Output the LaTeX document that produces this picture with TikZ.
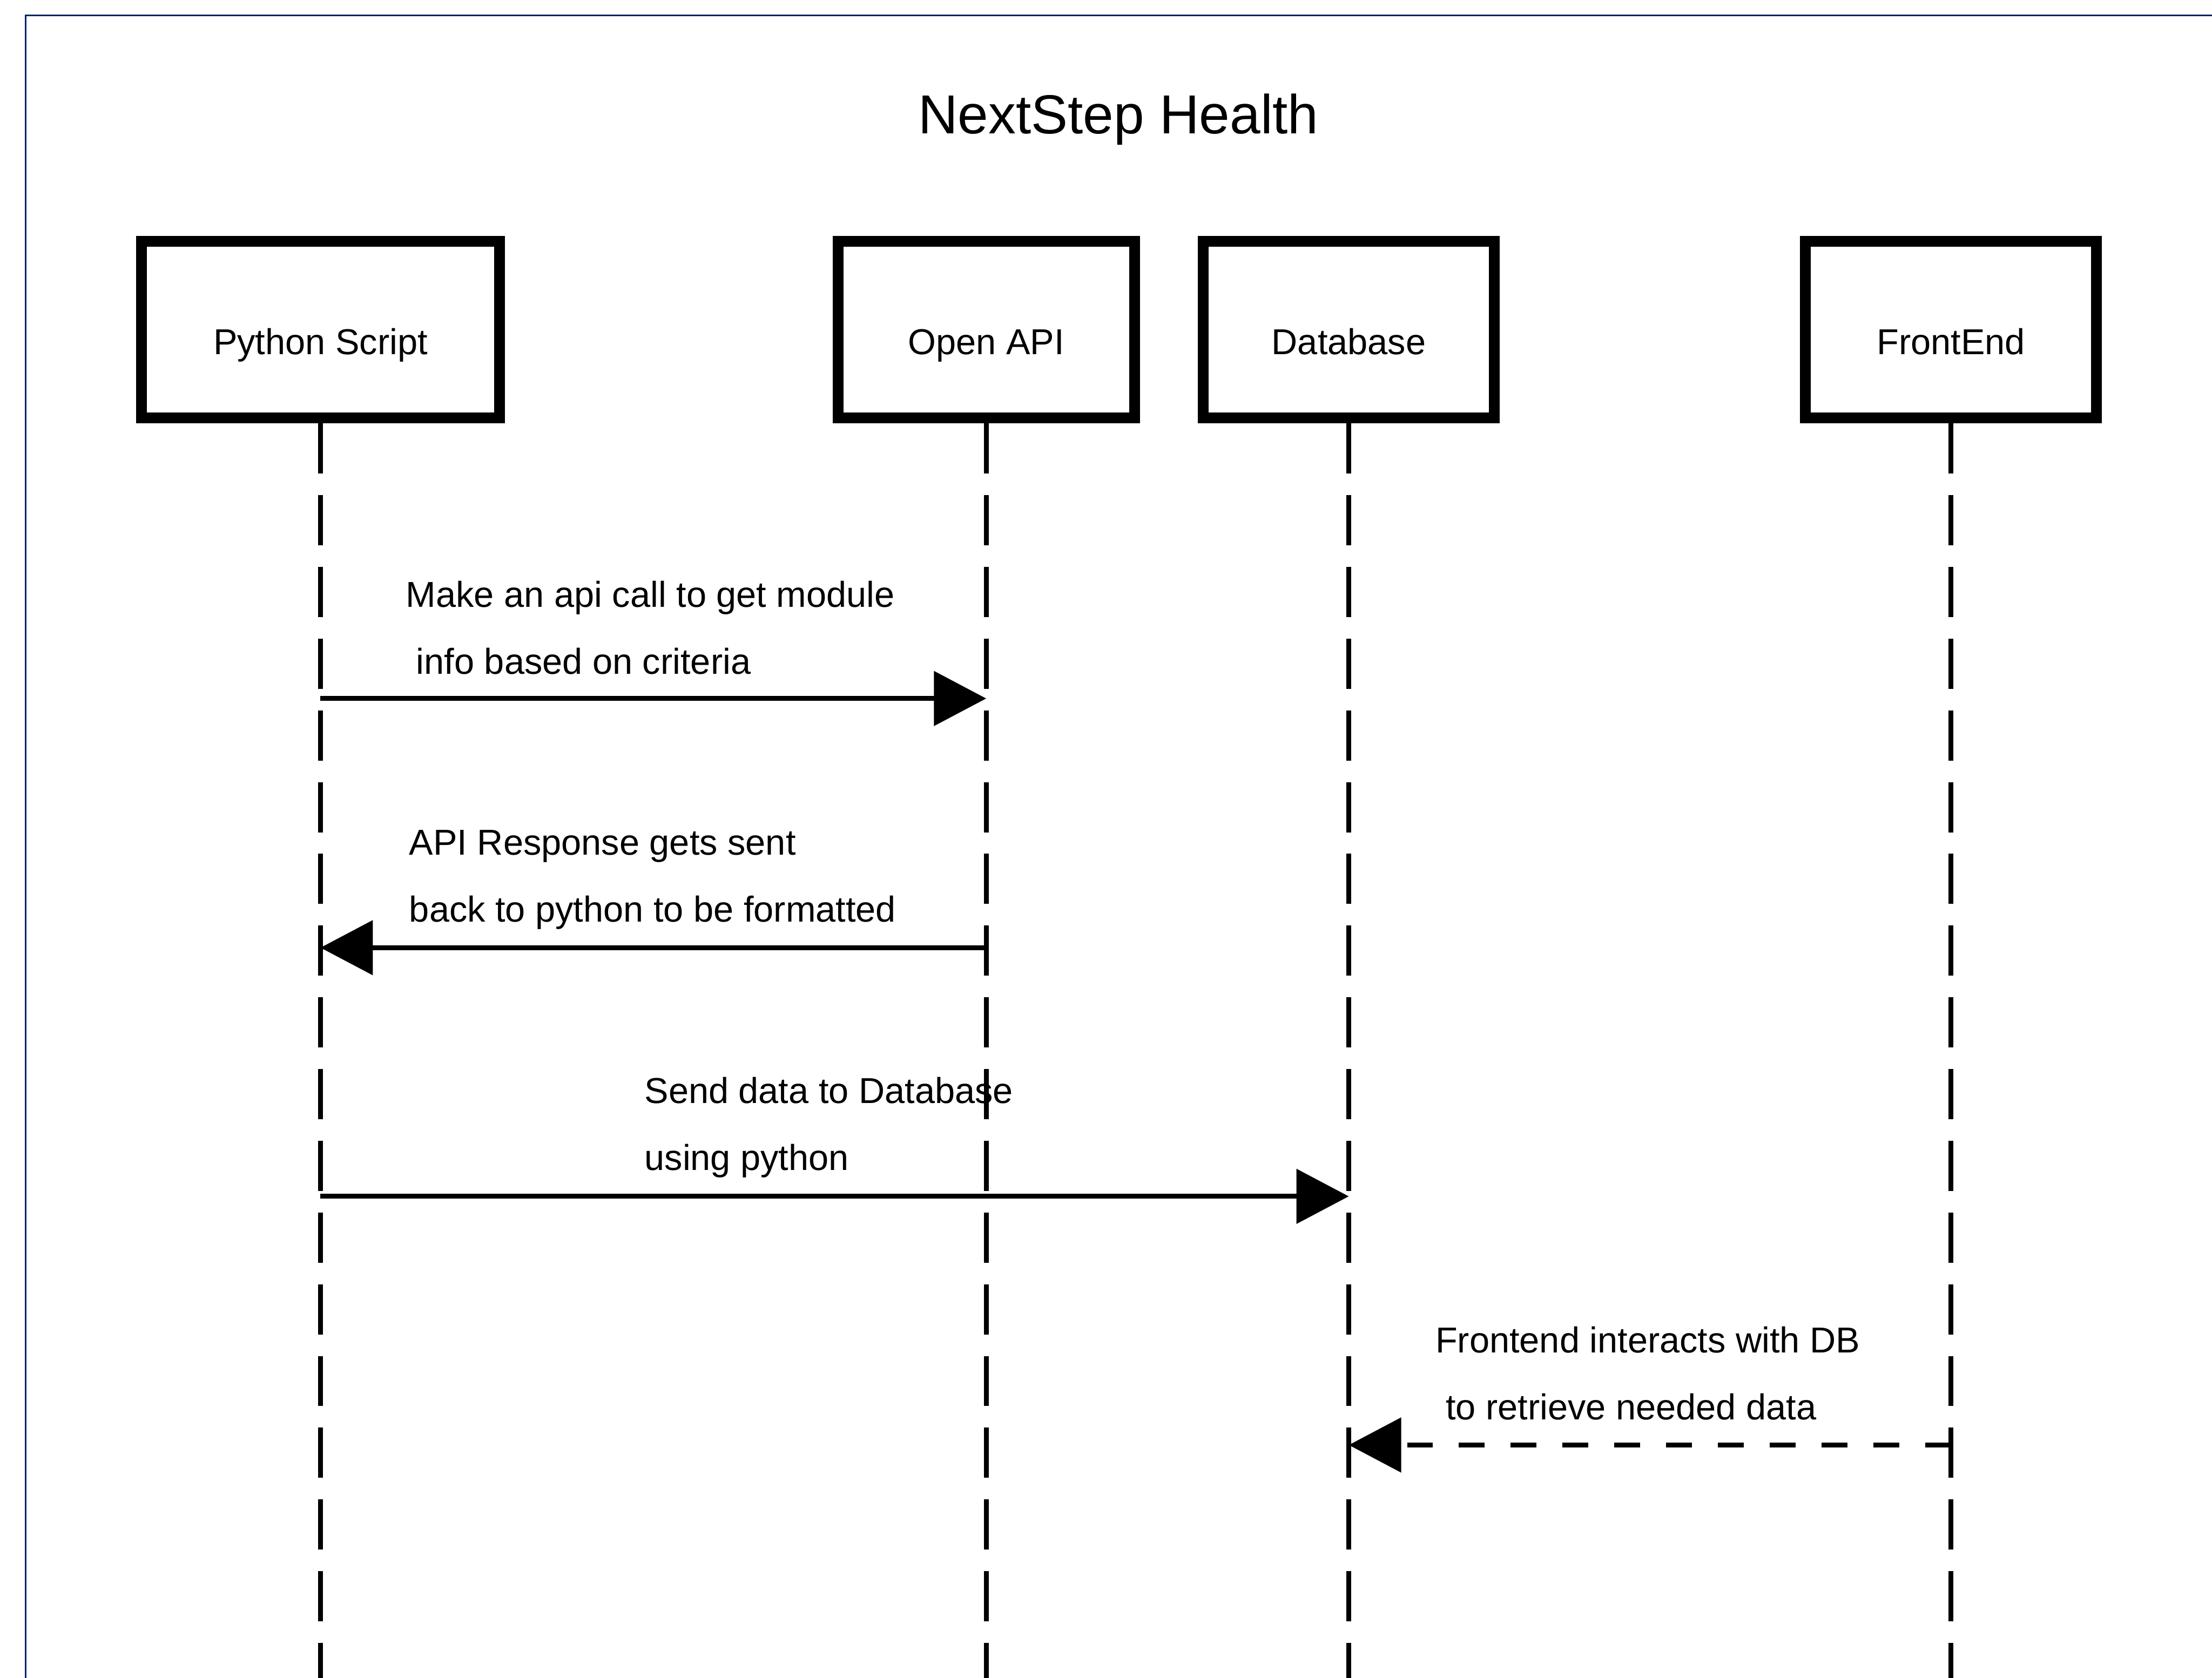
\documentclass[tikz,border=0pt]{standalone}
\usepackage{fontspec}
\setmainfont{Liberation Sans}
\usetikzlibrary{
    arrows.meta,
    positioning,
    calc
}
\definecolor{framenavy}{HTML}{0B2466}

\begin{document}
\begin{tikzpicture}[x=1cm, y=-1cm,
        actor/.style={draw, line width=0.2cm, inner sep=0pt, anchor=base,
            text height=2.1cm, text depth=1.18cm, font=\fontsize{19pt}{23pt}\selectfont},
        lifeline/.style={line width=0.09cm, dash pattern=on 0.93cm off 0.4cm},
        msg/.style={line width=0.09cm, -{Triangle[length=0.97cm, width=1cm]}},
        reply/.style={msg, dash pattern=on 0.48cm off 0.48cm},
        msgtext/.style={anchor=base west, align=left, inner sep=0pt,
            font=\fontsize{19pt}{35.3pt}\selectfont}]
                        \useasboundingbox (0, 0) rectangle (41, 31.11);
                        \draw[framenavy, line width=0.03cm] (41, 0.29) -- (0.48, 0.29) -- (0.48, 31.11);

                        \node[anchor=base, font=\fontsize{29pt}{35pt}\selectfont] (t) at (20.73, 2.48) {NextStep Health};

                        \node[actor, minimum width=6.64cm] (py) at (5.94, 6.57) {Python Script};
                        \node[actor, minimum width=5.5cm] (api) at (18.28, 6.57) {Open API};
                        \node[actor, minimum width=5.4cm] (db) at (25.0, 6.57) {Database};
                        \node[actor, minimum width=5.4cm] (fe) at (36.16, 6.57) {FrontEnd};

                        \coordinate (end) at (0, 31.11);
                        \coordinate (c1) at (0, 12.95);
                        \coordinate (c2) at (0, 17.57);
                        \coordinate (c3) at (0, 22.18);
                        \coordinate (c4) at (0, 26.79);

                        \draw[lifeline]
                        (py.south) -- (py.south |- end)
                        (api.south) -- (api.south |- end)
                        (db.south) -- (db.south |- end)
                        (fe.south) -- (fe.south |- end);

                        % base of a two-line text is the second line
                        \node[msgtext] (l1) at (7.52, 12.50) {Make an api call to get module\\\hspace*{0.19cm}info based on criteria};
                        \node[msgtext] (l2) at (7.58, 17.09) {API Response gets sent\\back to python to be formatted};
                        \node[msgtext] (l3) at (11.94, 21.70) {Send data to Database\\using python};
                        \node[msgtext] (l4) at (26.60, 26.32) {Frontend interacts with DB\\\hspace*{0.19cm}to retrieve needed data};

                        \draw[msg] (py |- c1) -- (api |- c1);
                        \draw[msg] (api |- c2) -- (py |- c2);
                        \draw[msg] (py |- c3) -- (db |- c3);
                        \draw[reply] (fe |- c4) -- (db |- c4);
                    \end{tikzpicture}
\end{document}
